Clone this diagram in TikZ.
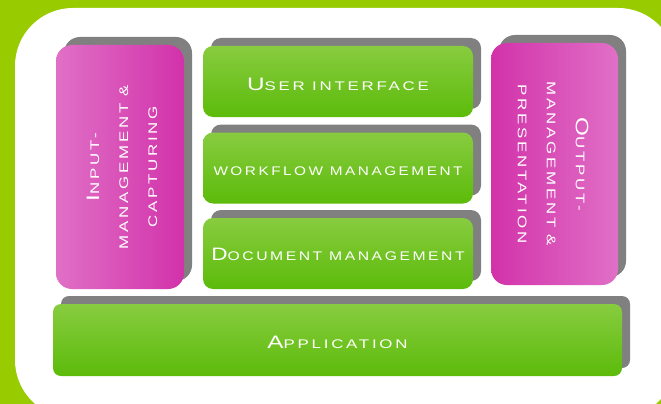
\documentclass[tikz,border=0pt]{standalone}
\usepackage{fontspec}
\newfontfamily\tech[FakeStretch=1.35,LetterSpace=22]{Liberation Sans}
\usetikzlibrary{shadows}
\definecolor{bggreen}{HTML}{99CC00}
\definecolor{gtop}{HTML}{88CC40}
\definecolor{gbot}{HTML}{5CBB0A}
\definecolor{plight}{HTML}{E070C6}
\definecolor{pdark}{HTML}{D232AA}
\definecolor{shad}{HTML}{808080}
\newcommand\Lg[1]{{\fontsize{18}{29}\selectfont #1}}
\newcommand\Sm[1]{{\fontsize{12.5}{29}\selectfont #1}}
\newcommand\Base[2]{\raisebox{-#1}[0pt][0pt]{#2}}
\tikzset{
  layer/.style={draw=none, inner sep=0pt, text=white, font=\tech,
    drop shadow={shadow xshift=8pt, shadow yshift=8pt, fill=shad, opacity=1}},
  greenbox/.style={layer, rounded corners=10pt, top color=gtop, bottom color=gbot,
    shading angle=0},
  pinkbox/.style={layer, rounded corners=16pt, align=center},
  vtext/.style={align=center, text=white, font=\tech\fontsize{12.5}{29}\selectfont, inner sep=0pt},
}
\begin{document}
\begin{tikzpicture}[x=1pt,y=-1pt]
\useasboundingbox (0,0) rectangle (661,404);
\fill[bggreen] (0,0) rectangle (661,404);
\fill[white, rounded corners=58pt] (15,8) rectangle (676,418);
% green layers
\node[greenbox, minimum width=270pt, minimum height=71pt] (ui) at (338,81.5)
  {\Base{9pt}{\Lg{U}\Sm{SER INTERFACE}}};
\node[greenbox, minimum width=270pt, minimum height=71pt] (wf) at (338,168)
  {\Base{7pt}{\scalebox{0.91}[1]{\Sm{WORKFLOW MANAGEMENT}}}};
\node[greenbox, minimum width=270pt, minimum height=71pt] (dm) at (338,253.5)
  {\Base{7pt}{\scalebox{0.93}[1]{\Lg{D}\Sm{OCUMENT MANAGEMENT}}}};
\node[greenbox, minimum width=569pt, minimum height=72pt, rounded corners=8pt] (app) at (337.5,340)
  {\Base{8pt}{\Lg{A}\Sm{PPLICATION}}};
% pink columns
\node[pinkbox, minimum width=128pt, minimum height=244pt, left color=plight, right color=pdark] (in) at (120,167) {};
\node[vtext, rotate=90] (intxt) at ([xshift=2pt]in.center)
  {\Lg{I}\Sm{NPUT-}\\\Sm{MANAGEMENT \&}\\\Sm{CAPTURING}};
\node[pinkbox, minimum width=127pt, minimum height=242pt, left color=pdark, right color=plight] (out) at (554.5,164) {};
\node[vtext, rotate=-90] (outtxt) at ([xshift=-1.5pt]out.center)
  {\Lg{O}\Sm{UTPUT-}\\\Sm{MANAGEMENT \&}\\\Sm{PRESENTATION}};
\end{tikzpicture}
\end{document}
